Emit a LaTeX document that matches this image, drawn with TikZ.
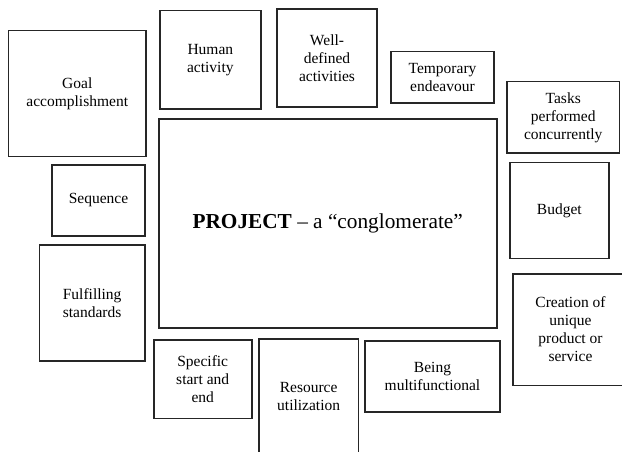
\documentclass[tikz,border=0pt]{standalone}
\usepackage{fontspec}
\setmainfont{Liberation Serif}
\begin{document}
\begin{tikzpicture}[x=1pt,y=-1pt,
  box/.style={draw=black!85, line width=1.6pt, rectangle, inner sep=0pt, align=center,
    font=\fontsize{15.5}{18}\selectfont},
  bigbox/.style={box, font=\fontsize{21.3}{25}\selectfont}]
\clip (0,0) rectangle (622,452);
\fill[white] (0,0) rectangle (622,452);
\node[box, minimum width=137.5pt, minimum height=126pt] (goal) at (77.25,93.5) {Goal\\accomplishment};
\node[box, minimum width=100.7pt, minimum height=98.3pt] (human) at (210.35,59.85) {Human\\activity};
\node[box, minimum width=100pt, minimum height=97.7pt] (well) at (327,58.15) {Well-\\defined\\activities};
\node[box, minimum width=103pt, minimum height=51.6pt] (temp) at (442.5,77.5) {Temporary\\endeavour};
\node[box, minimum width=112.5pt, minimum height=71.3pt] (tasks) at (563.25,117.35) {Tasks\\performed\\concurrently};
\node[box, minimum width=93pt, minimum height=71pt] (seq) at (98.5,200.5) {Sequence};
\node[bigbox, minimum width=338pt, minimum height=208.7pt] (main) at (327.7,223.35) {\textbf{PROJECT} – a “conglomerate”};
\node[box, minimum width=98.7pt, minimum height=96pt] (budget) at (559.35,210.3) {Budget};
\node[box, minimum width=105.7pt, minimum height=116pt] (fulfil) at (92.15,303) {Fulfilling\\standards};
\node[box, minimum width=115pt, minimum height=111.6pt] (creation) at (570.5,329.5) {Creation of\\unique\\product or\\service};
\node[box, minimum width=98pt, minimum height=78.3pt] (specific) at (202.7,379.15) {Specific\\start and\\end};
\node[box, minimum width=99.3pt, minimum height=115.3pt] (resource) at (308.65,396.35) {Resource\\utilization};
\node[box, minimum width=135pt, minimum height=70.7pt] (being) at (432.5,376.35) {Being\\multifunctional};
\end{tikzpicture}
\end{document}
